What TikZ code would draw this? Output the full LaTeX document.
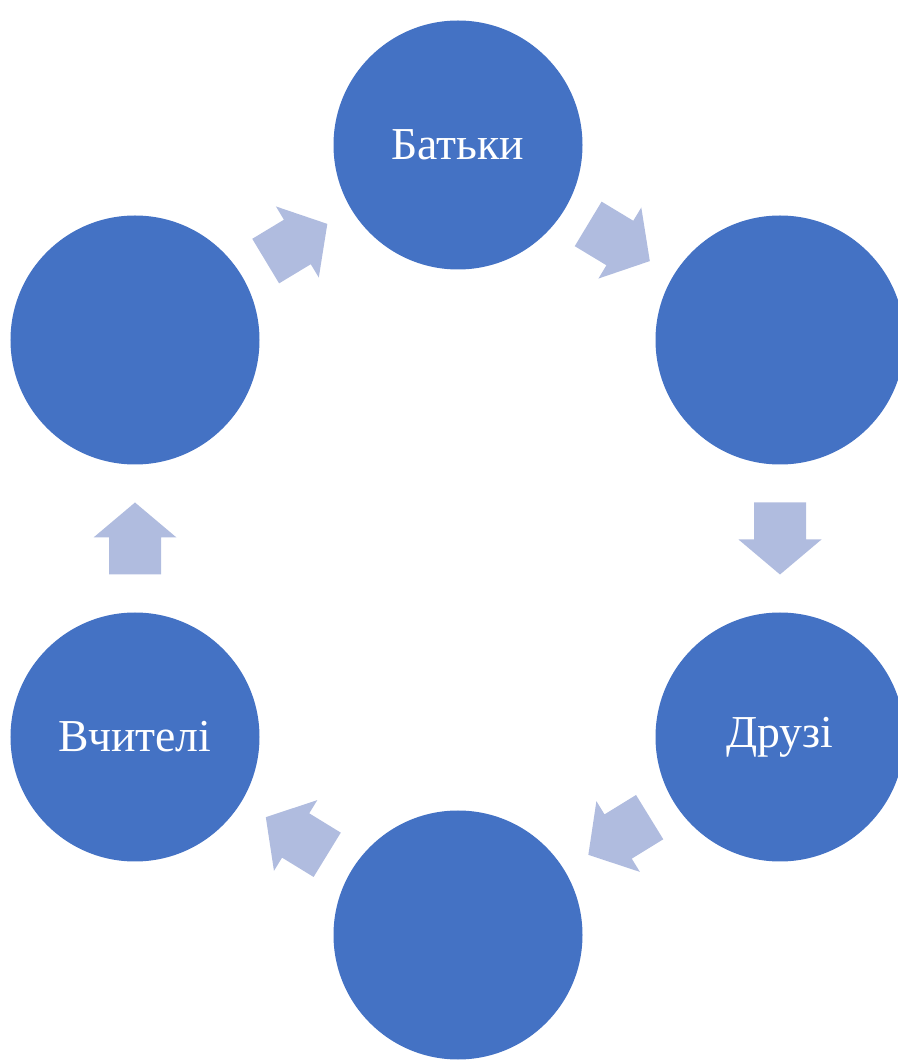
\documentclass[tikz,border=0pt]{standalone}
\usepackage{fontspec}
\setmainfont{Liberation Serif}
\usetikzlibrary{calc}
\definecolor{circblue}{HTML}{4472C4}
\definecolor{arrowblue}{HTML}{B0BCDF}

\begin{document}
\begin{tikzpicture}[
        x=1mm, y=1mm,
        bubble/.style={circle, fill=circblue, minimum size=24.9mm, inner sep=0pt,
            text=white, font=\fontsize{13}{15}\selectfont},
        flowarrow/.pic={
            \fill[arrowblue] (-3.6,-2.6) -- (0.1,-2.6) -- (0.1,-4.15) -- (3.6,0)
                -- (0.1,4.15) -- (0.1,2.6) -- (-3.6,2.6) -- cycle;
        }
    ]
        \useasboundingbox (0,0) rectangle (89.8,106.2);

        \node[bubble] (bat) at (45.8, 91.7) {Батьки};
        \node[bubble] (ur)  at (78.0, 72.2) {};
        \node[bubble] (dru) at (78.0, 32.5) {Друзі};
        \node[bubble] (bot) at (45.8, 12.7) {};
        \node[bubble] (vch) at (13.5, 32.5) {Вчителі};
        \node[bubble] (ul)  at (13.5, 72.2) {};

        % arrows sit halfway between neighbouring circles
        \pic[rotate=31.1]  at ($(ul)!0.5!(bat)$)  {flowarrow};
        \pic[rotate=-31.1] at ($(bat)!0.5!(ur)$)  {flowarrow};
        \pic[rotate=-90]   at ($(ur)!0.5!(dru)$)  {flowarrow};
        \pic[rotate=211.6] at ($(dru)!0.5!(bot)$) {flowarrow};
        \pic[rotate=148.5] at ($(bot)!0.5!(vch)$) {flowarrow};
        \pic[rotate=90]    at ($(vch)!0.5!(ul)$)  {flowarrow};

    \end{tikzpicture}
\end{document}
